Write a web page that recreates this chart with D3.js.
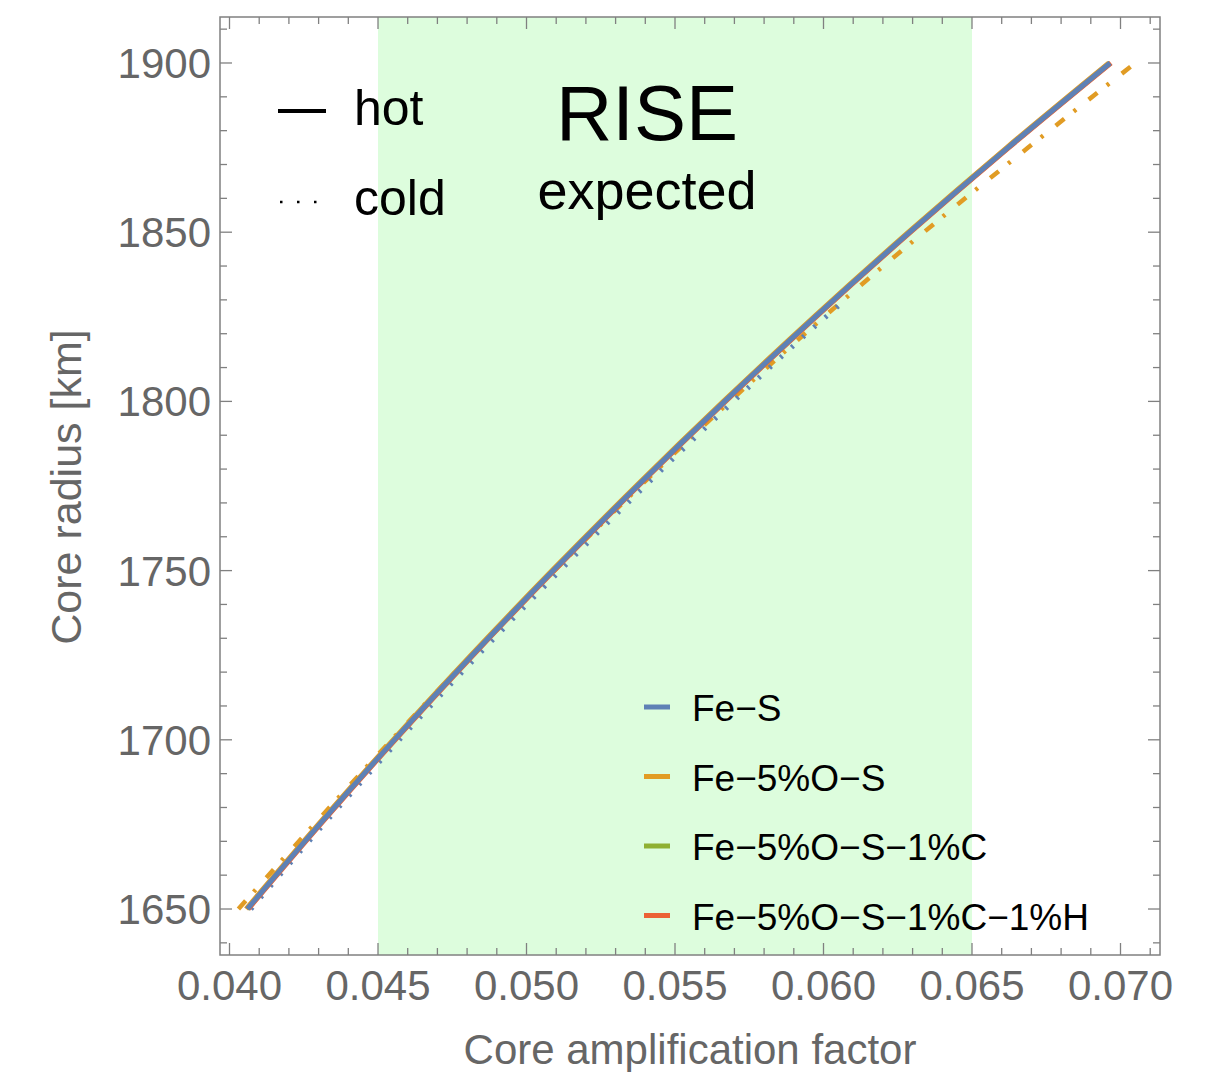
<!DOCTYPE html>
<html>
<head>
<meta charset="utf-8">
<script src="https://d3js.org/d3.v7.min.js"></script>
<style>
  body { margin: 0; background: #fff; }
  svg text { font-family: "Liberation Sans", Arial, Helvetica, sans-serif; }
</style>
</head>
<body>
<div id="chart"></div>
<script>
// core radius grid [km]
var radius = [1650, 1675, 1700, 1725, 1750, 1775, 1800, 1825, 1850, 1875, 1900];

// hot models: core amplification factor per radius
var hotFeS      = [0.0406, 0.04303, 0.04555, 0.04817, 0.0509, 0.05373, 0.05667, 0.05972, 0.0629, 0.06621, 0.06965];
var hotFeOS     = [0.04056, 0.04299, 0.04551, 0.04813, 0.05086, 0.05369, 0.05663, 0.05968, 0.06286, 0.06617, 0.06961];
var hotFeOSC    = [0.0406, 0.04303, 0.04555, 0.04817, 0.0509, 0.05373, 0.05667, 0.05972, 0.0629, 0.06621, 0.06965];
var hotFeOSCH   = [0.04063, 0.04306, 0.04558, 0.0482, 0.05093, 0.05376, 0.0567, 0.05975, 0.06293, 0.06624, 0.06968];

// cold models
var coldRadiusFeS = [1650, 1675, 1700, 1725, 1750, 1775, 1800, 1825, 1830];
var coldFeS       = [0.04072, 0.04317, 0.04572, 0.04837, 0.05113, 0.05399, 0.05697, 0.06008, 0.06074];
var coldFeOS      = [0.0403, 0.04285, 0.04546, 0.04815, 0.05094, 0.05383, 0.05685, 0.06002, 0.06338, 0.06689, 0.0705];

var seriesNames  = ["Fe\u2212S", "Fe\u22125%O\u2212S", "Fe\u22125%O\u2212S\u22121%C", "Fe\u22125%O\u2212S\u22121%C\u22121%H"];
var seriesColors = ["#5e81b5", "#e19c24", "#8fb032", "#eb6235"];

var xTicks = [0.040, 0.045, 0.050, 0.055, 0.060, 0.065, 0.070];
var yTicks = [1650, 1700, 1750, 1800, 1850, 1900];
var riseBand = [0.045, 0.065];

(function () {
  var W = 1215, H = 1072;
  var pL = 220, pR = 1160, pT = 17, pB = 955;
  var grey = "#666666";

  var svg = d3.select("#chart").append("svg")
      .attr("width", W)
      .attr("height", H);

  var x = d3.scaleLinear().domain([0.03968, 0.07133]).range([pL, pR]);
  var y = d3.scaleLinear().domain([1636.41, 1913.59]).range([pB, pT]);

  // RISE expected band
  svg.append("rect")
      .attr("x", x(riseBand[0]))
      .attr("y", pT)
      .attr("width", x(riseBand[1]) - x(riseBand[0]))
      .attr("height", pB - pT)
      .attr("fill", "#ddfddd");

  var line = d3.line()
      .x(function (d) { return x(d[0]); })
      .y(function (d) { return y(d[1]); })
      .curve(d3.curveMonotoneY);

  function pairs(xs, rs) {
    return xs.map(function (v, i) { return [v, rs[i]]; });
  }

  var plot = svg.append("g");

  // cold lines first
  plot.append("path")
      .attr("d", line(pairs(coldFeOS, radius)))
      .attr("fill", "none")
      .attr("stroke", seriesColors[1])
      .attr("stroke-width", 4.5)
      .attr("stroke-dasharray", "11,12,3,16");

  plot.append("path")
      .attr("d", line(pairs(coldFeS, coldRadiusFeS)))
      .attr("fill", "none")
      .attr("stroke", seriesColors[0])
      .attr("stroke-width", 5)
      .attr("stroke-dasharray", "2.5,12.5");

  // hot lines (Fe-S ends up on top)
  var hot = [
    {x: hotFeOSC, c: seriesColors[2]},
    {x: hotFeOSCH, c: seriesColors[3]},
    {x: hotFeOS, c: seriesColors[1]},
    {x: hotFeS, c: seriesColors[0]}
  ];
  plot.selectAll("path.hot")
      .data(hot)
      .enter()
      .append("path")
      .attr("class", "hot")
      .attr("d", function (d) { return line(pairs(d.x, radius)); })
      .attr("fill", "none")
      .attr("stroke", function (d) { return d.c; })
      .attr("stroke-width", 5);

  // frame and ticks
  svg.append("rect")
      .attr("x", pL).attr("y", pT)
      .attr("width", pR - pL).attr("height", pB - pT)
      .attr("fill", "none")
      .attr("stroke", "#808080")
      .attr("stroke-width", 1.5);

  var xMinor = d3.range(40, 72).map(function (v) { return v / 1000; });
  var yMinor = d3.range(1640, 1911, 10);

  var ticks = svg.append("g").attr("stroke", "#808080").attr("stroke-width", 1.3);
  xMinor.forEach(function (v) {
    var len = Math.round(v * 1000) % 5 === 0 ? 12 : 7;
    ticks.append("line").attr("x1", x(v)).attr("x2", x(v)).attr("y1", pB).attr("y2", pB - len);
    ticks.append("line").attr("x1", x(v)).attr("x2", x(v)).attr("y1", pT).attr("y2", pT + len);
  });
  yMinor.forEach(function (v) {
    var len = v % 50 === 0 ? 12 : 7;
    ticks.append("line").attr("y1", y(v)).attr("y2", y(v)).attr("x1", pL).attr("x2", pL + len);
    ticks.append("line").attr("y1", y(v)).attr("y2", y(v)).attr("x1", pR).attr("x2", pR - len);
  });

  // tick labels
  svg.append("g").selectAll("text")
      .data(xTicks)
      .enter()
      .append("text")
      .attr("x", function (d) { return x(d); })
      .attr("y", 1000)
      .attr("text-anchor", "middle")
      .attr("font-size", 42)
      .attr("fill", grey)
      .text(d3.format(".3f"));

  svg.append("g").selectAll("text")
      .data(yTicks)
      .enter()
      .append("text")
      .attr("x", 211)
      .attr("y", function (d) { return y(d) + 15; })
      .attr("text-anchor", "end")
      .attr("font-size", 42)
      .attr("fill", grey)
      .text(function (d) { return d; });

  // axis titles
  svg.append("text")
      .attr("x", 690).attr("y", 1064)
      .attr("text-anchor", "middle")
      .attr("font-size", 42)
      .attr("fill", grey)
      .text("Core amplification factor");

  svg.append("text")
      .attr("transform", "translate(81,487) rotate(-90)")
      .attr("text-anchor", "middle")
      .attr("font-size", 43)
      .attr("fill", grey)
      .text("Core radius [km]");

  // hot / cold key
  svg.append("line")
      .attr("x1", 278).attr("x2", 326).attr("y1", 111).attr("y2", 111)
      .attr("stroke", "#000").attr("stroke-width", 4);
  svg.append("line")
      .attr("x1", 280).attr("x2", 318).attr("y1", 202).attr("y2", 202)
      .attr("stroke", "#000").attr("stroke-width", 2.5)
      .attr("stroke-dasharray", "2.5,14.5");
  svg.append("text").attr("x", 354).attr("y", 125).attr("font-size", 50).text("hot");
  svg.append("text").attr("x", 354).attr("y", 215).attr("font-size", 50).text("cold");

  // RISE label
  svg.append("text").attr("x", 647).attr("y", 140)
      .attr("text-anchor", "middle").attr("font-size", 78).text("RISE");
  svg.append("text").attr("x", 647).attr("y", 209)
      .attr("text-anchor", "middle").attr("font-size", 54).text("expected");

  // series legend
  var legend = svg.append("g").selectAll("g")
      .data(seriesNames)
      .enter()
      .append("g")
      .attr("transform", function (d, i) { return "translate(0," + (707 + i * 69.5) + ")"; });
  legend.append("line")
      .attr("x1", 644).attr("x2", 670)
      .attr("stroke", function (d, i) { return seriesColors[i]; })
      .attr("stroke-width", 5);
  legend.append("text")
      .attr("x", 692).attr("y", 14)
      .attr("font-size", 37)
      .text(function (d) { return d; });
})();
</script>
</body>
</html>
